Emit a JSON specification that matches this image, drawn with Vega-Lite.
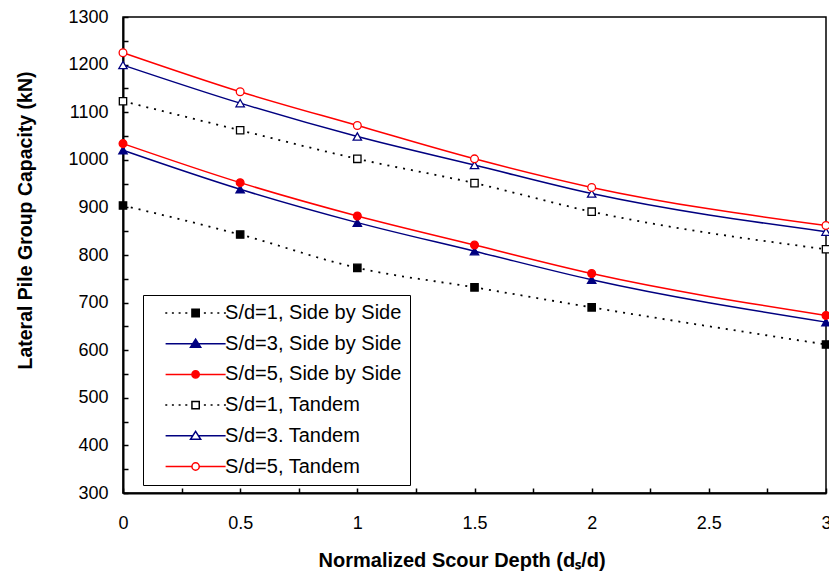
{
  "$schema": "https://vega.github.io/schema/vega-lite/v6.json",
  "width": 703,
  "height": 476,
  "autosize": "none",
  "padding": {"left": 123, "top": 17, "right": 3, "bottom": 80},
  "background": "white",
  "config": {
    "font": "Liberation Sans",
    "view": {"stroke": "black", "strokeWidth": 1.5},
    "axis": {
      "grid": false,
      "domainColor": "black",
      "domainWidth": 2,
      "tickColor": "black",
      "tickWidth": 1.5,
      "tickSize": -5,
      "labelFont": "Liberation Sans",
      "labelFontSize": 18,
      "labelColor": "black",
      "labelFlush": false,
      "titleFont": "Liberation Sans",
      "titleFontSize": 20,
      "titleFontWeight": "bold",
      "titleColor": "black"
    },
    "legend": {
      "orient": "none",
      "legendX": 20,
      "legendY": 278,
      "strokeColor": "black",
      "fillColor": "white",
      "padding": 8,
      "cornerRadius": 0,
      "labelFont": "Liberation Sans",
      "labelFontSize": 20,
      "labelColor": "black",
      "labelOffset": 19.5,
      "labelLimit": 400,
      "rowPadding": 10.7,
      "symbolOffset": 34.6,
      "symbolSize": 144,
      "symbolStrokeWidth": 1.5,
      "symbolOpacity": 1
    }
  },
  "datasets": {
    "capacity": [
      {"x": 0, "y": 904, "series": "S/d=1, Side by Side"},
      {"x": 0.5, "y": 843, "series": "S/d=1, Side by Side"},
      {"x": 1, "y": 773, "series": "S/d=1, Side by Side"},
      {"x": 1.5, "y": 732, "series": "S/d=1, Side by Side"},
      {"x": 2, "y": 690, "series": "S/d=1, Side by Side"},
      {"x": 3, "y": 612, "series": "S/d=1, Side by Side"},
      {"x": 0, "y": 1020, "series": "S/d=3, Side by Side"},
      {"x": 0.5, "y": 938, "series": "S/d=3, Side by Side"},
      {"x": 1, "y": 868, "series": "S/d=3, Side by Side"},
      {"x": 1.5, "y": 808, "series": "S/d=3, Side by Side"},
      {"x": 2, "y": 748, "series": "S/d=3, Side by Side"},
      {"x": 3, "y": 659, "series": "S/d=3, Side by Side"},
      {"x": 0, "y": 1034, "series": "S/d=5, Side by Side"},
      {"x": 0.5, "y": 952, "series": "S/d=5, Side by Side"},
      {"x": 1, "y": 882, "series": "S/d=5, Side by Side"},
      {"x": 1.5, "y": 821, "series": "S/d=5, Side by Side"},
      {"x": 2, "y": 761, "series": "S/d=5, Side by Side"},
      {"x": 3, "y": 673, "series": "S/d=5, Side by Side"},
      {"x": 0, "y": 1123, "series": "S/d=1, Tandem"},
      {"x": 0.5, "y": 1062, "series": "S/d=1, Tandem"},
      {"x": 1, "y": 1002, "series": "S/d=1, Tandem"},
      {"x": 1.5, "y": 951, "series": "S/d=1, Tandem"},
      {"x": 2, "y": 891, "series": "S/d=1, Tandem"},
      {"x": 3, "y": 812, "series": "S/d=1, Tandem"},
      {"x": 0, "y": 1199, "series": "S/d=3. Tandem"},
      {"x": 0.5, "y": 1119, "series": "S/d=3. Tandem"},
      {"x": 1, "y": 1049, "series": "S/d=3. Tandem"},
      {"x": 1.5, "y": 989, "series": "S/d=3. Tandem"},
      {"x": 2, "y": 929, "series": "S/d=3. Tandem"},
      {"x": 3, "y": 849, "series": "S/d=3. Tandem"},
      {"x": 0, "y": 1225, "series": "S/d=5, Tandem"},
      {"x": 0.5, "y": 1143, "series": "S/d=5, Tandem"},
      {"x": 1, "y": 1072, "series": "S/d=5, Tandem"},
      {"x": 1.5, "y": 1002, "series": "S/d=5, Tandem"},
      {"x": 2, "y": 942, "series": "S/d=5, Tandem"},
      {"x": 3, "y": 862, "series": "S/d=5, Tandem"}
    ]
  },
  "data": {"name": "capacity"},
  "encoding": {
    "x": {
      "field": "x",
      "type": "quantitative",
      "scale": {"domain": [0, 3], "nice": false, "zero": false},
      "axis": {
        "title": "Normalized Scour Depth (dₛ/d)",
        "values": [0, 0.25, 0.5, 0.75, 1, 1.25, 1.5, 1.75, 2, 2.25, 2.5, 2.75, 3],
        "format": "~g",
        "labelExpr": "datum.value % 0.5 === 0 ? datum.label : ''",
        "labelPadding": 26,
        "labelBaseline": "top",
        "titleX": 338.6,
        "titleY": 73,
        "titleAlign": "center",
        "titleBaseline": "alphabetic"
      }
    },
    "y": {
      "field": "y",
      "type": "quantitative",
      "scale": {"domain": [300, 1300], "nice": false, "zero": false},
      "axis": {
        "title": "Lateral Pile Group Capacity (kN)",
        "values": [300, 350, 400, 450, 500, 550, 600, 650, 700, 750, 800, 850, 900, 950, 1000, 1050, 1100, 1150, 1200, 1250, 1300],
        "format": "d",
        "labelExpr": "datum.value % 100 === 0 ? datum.label : ''",
        "labelPadding": 20,
        "titleFontSize": 19.5,
        "titleX": -91.3,
        "titleY": 203,
        "titleAlign": "center",
        "titleBaseline": "alphabetic"
      }
    }
  },
  "layer": [
    {
      "transform": [{"filter": {"field": "series", "oneOf": ["S/d=1, Side by Side", "S/d=1, Tandem"]}}],
      "mark": {"type": "line", "strokeWidth": 1.8, "interpolate": "monotone", "strokeDash": [2, 6]},
      "encoding": {
        "color": {
          "field": "series",
          "type": "nominal",
          "scale": {
            "domain": ["S/d=1, Side by Side", "S/d=3, Side by Side", "S/d=5, Side by Side", "S/d=1, Tandem", "S/d=3. Tandem", "S/d=5, Tandem"],
            "range": ["#000000", "#000080", "#FF0000", "#000000", "#000080", "#FF0000"]
          }
        }
      }
    },
    {
      "transform": [{"filter": {"field": "series", "oneOf": ["S/d=3, Side by Side", "S/d=5, Side by Side", "S/d=3. Tandem", "S/d=5, Tandem"]}}],
      "mark": {"type": "line", "strokeWidth": 1.5, "interpolate": "monotone"},
      "encoding": {
        "color": {"field": "series", "type": "nominal"}
      }
    },
    {
      "transform": [{"filter": {"field": "series", "oneOf": ["S/d=1, Side by Side", "S/d=1, Tandem"]}}],
      "mark": {"type": "point", "shape": "square", "size": 54, "opacity": 1, "strokeWidth": 1.3, "filled": false},
      "encoding": {
        "color": {"field": "series", "type": "nominal"},
        "fill": {
          "field": "series",
          "type": "nominal",
          "scale": {
            "domain": ["S/d=1, Side by Side", "S/d=3, Side by Side", "S/d=5, Side by Side", "S/d=1, Tandem", "S/d=3. Tandem", "S/d=5, Tandem"],
            "range": ["#000000", "#000080", "#FF0000", "#FFFFFF", "#FFFFFF", "#FFFFFF"]
          }
        }
      }
    },
    {
      "transform": [{"filter": {"field": "series", "oneOf": ["S/d=3, Side by Side", "S/d=3. Tandem"]}}],
      "mark": {"type": "point", "shape": "triangle-up", "size": 70, "opacity": 1, "strokeWidth": 1.3, "filled": false},
      "encoding": {
        "color": {"field": "series", "type": "nominal"},
        "fill": {"field": "series", "type": "nominal"}
      }
    },
    {
      "transform": [{"filter": {"field": "series", "oneOf": ["S/d=5, Side by Side", "S/d=5, Tandem"]}}],
      "mark": {"type": "point", "shape": "circle", "size": 60, "opacity": 1, "strokeWidth": 1.3, "filled": false},
      "encoding": {
        "color": {"field": "series", "type": "nominal"},
        "fill": {"field": "series", "type": "nominal"}
      }
    },
    {
      "transform": [{"filter": {"field": "x", "gt": 99}}],
      "mark": {"type": "point", "opacity": 1, "filled": false, "strokeWidth": 1.5},
      "encoding": {
        "color": {"field": "series", "type": "nominal", "legend": {"title": null}},
        "fill": {"field": "series", "type": "nominal", "legend": {"title": null}},
        "shape": {
          "field": "series",
          "type": "nominal",
          "legend": {"title": null},
          "scale": {
            "domain": ["S/d=1, Side by Side", "S/d=3, Side by Side", "S/d=5, Side by Side", "S/d=1, Tandem", "S/d=3. Tandem", "S/d=5, Tandem"],
            "range": [
              "M-5.05,0H-4.72M-3.95,0H-3.62M-2.83,0H-2.5M-1.72,0H-1.38M-0.61,-0.61H0.61V0.61H-0.61ZM1.38,0H1.72M2.5,0H2.83M3.62,0H3.95M4.72,0H5.05",
              "M-5,0H-0.48M0.48,0H5M0,-0.75L0.85,0.58H-0.85Z",
              "M-5,0H-0.61M0.61,0H5M0.61,0C0.61,0.337 0.337,0.61 0,0.61C-0.337,0.61 -0.61,0.337 -0.61,0C-0.61,-0.337 -0.337,-0.61 0,-0.61C0.337,-0.61 0.61,-0.337 0.61,0Z",
              "M-5.05,0H-4.72M-3.95,0H-3.62M-2.83,0H-2.5M-1.72,0H-1.38M-0.61,-0.61H0.61V0.61H-0.61ZM1.38,0H1.72M2.5,0H2.83M3.62,0H3.95M4.72,0H5.05",
              "M-5,0H-0.48M0.48,0H5M0,-0.75L0.85,0.58H-0.85Z",
              "M-5,0H-0.61M0.61,0H5M0.61,0C0.61,0.337 0.337,0.61 0,0.61C-0.337,0.61 -0.61,0.337 -0.61,0C-0.61,-0.337 -0.337,-0.61 0,-0.61C0.337,-0.61 0.61,-0.337 0.61,0Z"
            ]
          }
        }
      }
    }
  ]
}
